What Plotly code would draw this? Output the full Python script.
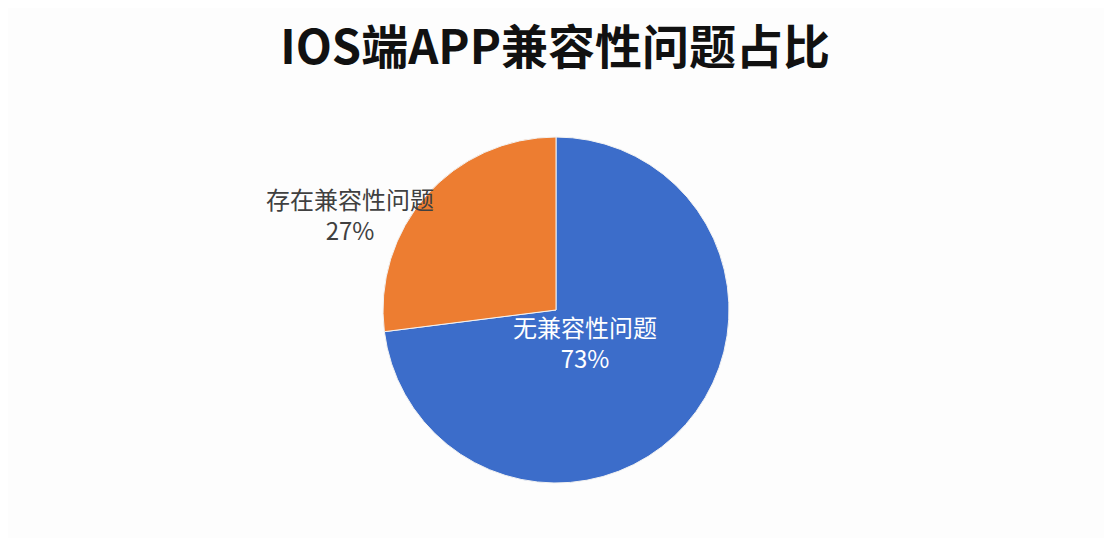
import plotly.graph_objects as go

# 数据
labels = ["无兼容性问题", "存在兼容性问题"]
values = [73, 27]
colors = ["#3C6DCA", "#ED7D31"]
label_colors = ["#FFFFFF", "#404040"]

fig = go.Figure()
fig.add_trace(go.Pie(
    labels=labels,
    values=values,
    sort=False,
    direction="clockwise",
    rotation=0,
    marker=dict(colors=colors, line=dict(color="#F2F2F2", width=1)),
    textinfo="none",
    hoverinfo="label+percent",
    showlegend=False,
))

# 数据标签位置 (paper坐标)
label_pos = [(0.532, 0.408), (0.274, 0.777)]
for lab, val, col, (px, py) in zip(labels, values, label_colors, label_pos):
    fig.add_annotation(
        x=px, y=py, xref="paper", yref="paper",
        xanchor="center", yanchor="middle",
        text=f"{lab}<br>{val}%",
        showarrow=False,
        font=dict(family="Noto Sans CJK SC", size=24, color=col),
        align="center",
    )

fig.update_layout(
    width=1112,
    height=538,
    title=dict(
        text="<b>IOS端APP兼容性问题占比</b>",
        x=0.492, xanchor="center", xref="container",
        y=0.926, yanchor="middle", yref="container",
        font=dict(family="Noto Sans CJK SC", size=47, color="#111111"),
    ),
    margin=dict(l=92, r=108, t=129, b=63),
    paper_bgcolor="#FDFDFD",
    plot_bgcolor="#FDFDFD",
)

fig.write_html("out.html")
